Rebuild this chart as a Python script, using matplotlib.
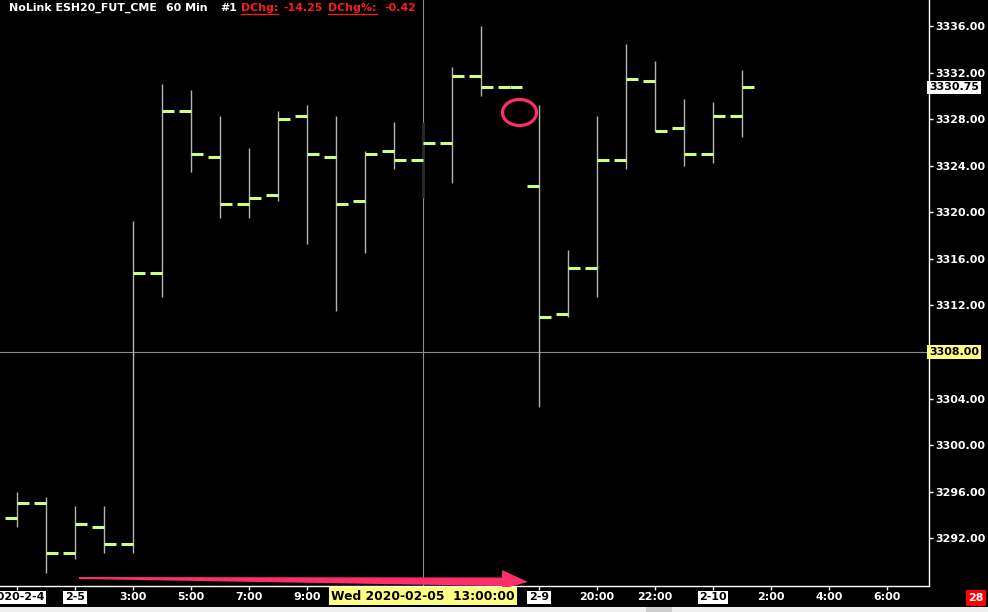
import numpy as np
import matplotlib
matplotlib.use('Agg')
import matplotlib.pyplot as plt
from matplotlib.patches import Polygon, Ellipse, Rectangle
from matplotlib.lines import Line2D
from matplotlib.transforms import Affine2D, blended_transform_factory

# ESH20 60 min bars
opens  = [3293.75, 3295.00, 3290.75, 3293.00, 3291.50, 3314.75, 3328.75, 3324.75, 3320.75,
          3321.50, 3328.25, 3324.75, 3321.00, 3325.25, 3324.50, 3326.00, 3331.75, 3330.75,
          3322.25, 3311.25, 3315.25, 3324.50, 3331.25, 3327.25, 3325.00, 3328.25]
highs  = [3296.00, 3295.50, 3294.75, 3294.75, 3319.25, 3331.00, 3330.50, 3328.25, 3325.50,
          3328.75, 3329.25, 3328.25, 3325.25, 3327.75, 3327.75, 3332.50, 3336.00, 3330.75,
          3329.25, 3316.75, 3328.25, 3334.50, 3333.00, 3329.75, 3329.50, 3332.25]
lows   = [3293.00, 3289.00, 3290.25, 3290.75, 3290.75, 3312.75, 3323.50, 3319.50, 3319.50,
          3321.00, 3317.25, 3311.50, 3316.50, 3323.75, 3321.25, 3322.50, 3330.00, 3330.75,
          3303.25, 3311.00, 3312.75, 3323.75, 3327.00, 3324.00, 3324.25, 3326.50]
closes = [3295.00, 3290.75, 3293.25, 3291.50, 3314.75, 3328.75, 3325.00, 3320.75, 3321.25,
          3328.00, 3325.00, 3320.75, 3325.00, 3324.50, 3326.00, 3331.75, 3330.75, 3330.75,
          3311.00, 3315.25, 3324.50, 3331.50, 3327.00, 3325.00, 3328.25, 3330.75]

# labels every 2 bars; the ones under the crosshair box are hidden on screen
x_labels = ['2020-2-4', '2-5', '3:00', '5:00', '7:00', '9:00', '', '', '',
            '2-9', '20:00', '22:00', '2-10', '2:00', '4:00', '6:00']
price_ticks = np.arange(3292, 3337, 4)
last_price = 3330.75
cross_price = 3308.00
cross_bar = 14
cross_label = 'Wed 2020-02-05  13:00:00'

green = '#ccff80'
pink = '#ff2d6a'
fs = 7.9

W, H = 988, 612
fig = plt.figure(figsize=(W / 100, H / 100), dpi=100, facecolor='black')
ax = fig.add_axes([0, 26 / H, 929 / W, 586 / H])
ax.set_facecolor('black')

# pixel coords (top-left origin) -> figure
px = Affine2D().scale(1 / W, -1 / H).translate(0, 1) + fig.transFigure

idx = np.arange(len(opens))

# crosshair
ax.axvline(cross_bar, color='#8a8a8a', lw=0.8, zorder=1)
ax.axhline(cross_price, color='#8a8a8a', lw=0.8, zorder=1)

# OHLC bars
ax.vlines(idx, lows, highs, colors='#b4b4b4', lw=1.0, zorder=2)
ax.vlines(cross_bar, lows[cross_bar], highs[cross_bar], colors='#2a2a2a', lw=1.0, zorder=2.5)
ax.hlines(opens, idx - 0.4, idx, colors=green, lw=2.2, zorder=3)
ax.hlines(closes, idx, idx + 0.4, colors=green, lw=2.2, zorder=3)

ax.set_xlim(-0.586, 31.45)
ax.set_ylim(3287.89, 3338.25)

for s in ['left', 'top']:
    ax.spines[s].set_visible(False)
for s in ['right', 'bottom']:
    ax.spines[s].set_color('white')
    ax.spines[s].set_linewidth(1.0)

ax.yaxis.tick_right()
ax.set_yticks(price_ticks)
# the crosshair price box sits on top of its own tick label
ax.set_yticklabels(['' if p == cross_price else '%.2f' % p for p in price_ticks])
ax.set_xticks(np.arange(0, 31, 2))
ax.set_xticklabels(x_labels)
ax.tick_params(axis='both', colors='white', length=3, width=1, labelsize=fs, direction='out')
ax.tick_params(axis='x', pad=1.5)
ax.tick_params(axis='y', pad=1.2)
for lbl in ax.get_xticklabels() + ax.get_yticklabels():
    lbl.set_fontweight('bold')
for lbl in ax.get_xticklabels():
    if '-' in lbl.get_text():
        lbl.set_color('black')
        lbl.set_bbox(dict(facecolor='white', edgecolor='none', pad=1.2))

# price boxes on the right axis
ytr = blended_transform_factory(ax.transAxes, ax.transData)
ax.text(1.0, last_price, '%.2f' % last_price, transform=ytr, ha='left', va='center',
        fontsize=fs, fontweight='bold', color='black', clip_on=False, zorder=10,
        bbox=dict(facecolor='white', edgecolor='none', pad=1.3))
ax.text(1.0, cross_price, '%.2f' % cross_price, transform=ytr, ha='left', va='center',
        fontsize=fs, fontweight='bold', color='black', clip_on=False, zorder=10,
        bbox=dict(facecolor='#ffff80', edgecolor='none', pad=1.3))

# header
fig.text(9, 8, 'NoLink ESH20_FUT_CME', transform=px, color='white', fontsize=fs,
         fontweight='bold', va='center')
fig.text(166, 8, '60 Min', transform=px, color='white', fontsize=fs,
         fontweight='bold', va='center')
fig.text(220, 8, '#1', transform=px, color='white', fontsize=fs,
         fontweight='bold', va='center')
red_parts = [(241, 'DChg:', True), (283, '-14.25', False), (328, 'DChg%:', True), (384, '-0.42', False)]
red_texts = []
for x0, s, ul in red_parts:
    t = fig.text(x0, 8, s, transform=px, color='#ff1a1a', fontsize=fs, fontweight='bold',
                 va='center')
    red_texts.append((t, ul))

# annotations: arrow and circle
arrow = Polygon([(79, 577), (502, 577.5), (502, 570), (528, 582), (502, 589), (502, 586), (79, 579)],
                closed=True, facecolor=pink, edgecolor='none', transform=px, zorder=5)
fig.add_artist(arrow)
circ = Ellipse((519.5, 112.5), 34, 26, facecolor='none', edgecolor=pink, lw=2.3, transform=px)
fig.add_artist(circ)

# crosshair time label
fig.text(423, 596, cross_label, transform=px, ha='center', va='center', fontsize=8.8,
         fontweight='bold', color='black', zorder=10,
         bbox=dict(facecolor='#ffff80', edgecolor='none', pad=1.8))

# bar count box
fig.text(976, 598, '28', transform=px, ha='center', va='center', fontsize=fs,
         fontweight='bold', color='white', zorder=10,
         bbox=dict(facecolor='#ff0000', edgecolor='none', pad=1.8))

# scrollbar strip
fig.add_artist(Rectangle((0, 607), W, 5, transform=px, facecolor='#f0f0f0', edgecolor='none', zorder=6))
fig.add_artist(Rectangle((646, 607), 26, 5, transform=px, facecolor='#cdcdcd', edgecolor='none', zorder=7))

# underline the red field names
fig.canvas.draw()
r = fig.canvas.get_renderer()
for t, ul in red_texts:
    if ul:
        bb = t.get_window_extent(r)
        fig.add_artist(Line2D([bb.x0 / W, bb.x1 / W], [(bb.y0 - 0.5) / H] * 2,
                              color='#ff1a1a', lw=0.9, transform=fig.transFigure))

fig.savefig('out.png', dpi=100, facecolor='black')
